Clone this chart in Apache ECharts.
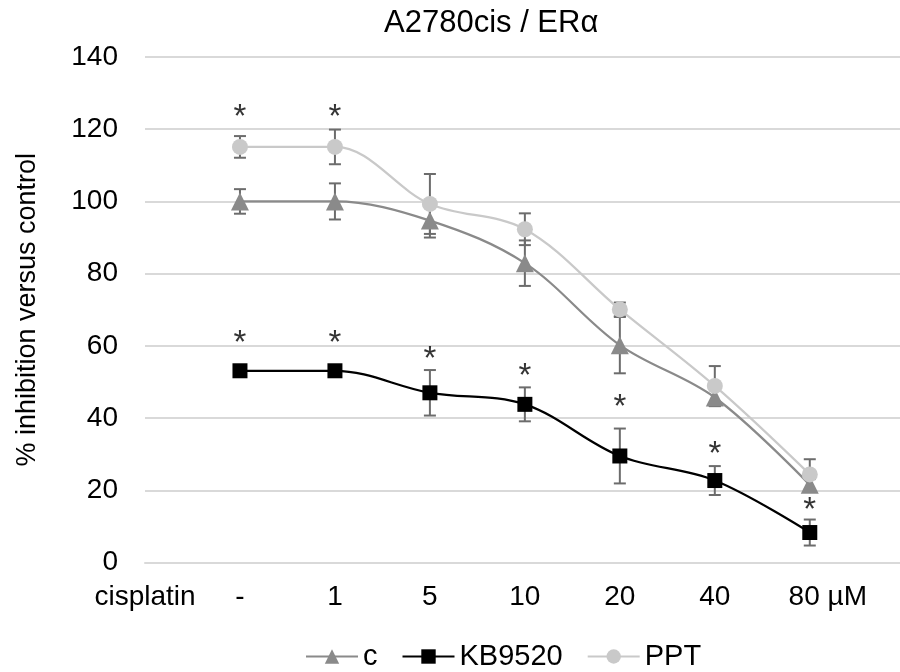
<!DOCTYPE html>
<html>
<head>
<meta charset="utf-8">
<script src="https://cdn.jsdelivr.net/npm/echarts@6/dist/echarts.min.js"></script>
<style>
  html, body { margin: 0; padding: 0; background: #ffffff; }
  #chart { width: 900px; height: 672px; }
</style>
</head>
<body>
<div id="chart"></div>
<script>
// ---- data ----
const chartTitle = 'A2780cis / ERα';
const yAxisName = '% inhibition versus control';
const axisLead = 'cisplatin';
const categories = ['-', '1', '5', '10', '20', '40', '80 µM'];
const yTicks = [0, 20, 40, 60, 80, 100, 120, 140];

const seriesNames = ['c', 'KB9520', 'PPT'];
const cValues   = [100, 100, 94.7, 82.9, 60.2, 45.7, 21.5];
const cErrors   = [3.4, 5.0, 4.7, 6.3, 7.8, 2.4, 1.6];
const kbValues  = [53.1, 53.1, 47.0, 43.8, 29.5, 22.7, 8.3];
const kbErrors  = [0.4, 0.4, 6.3, 4.7, 7.6, 4.0, 3.6];
const pptValues = [115.1, 115.1, 99.3, 92.3, 70.1, 48.9, 24.4];
const pptErrors = [3.0, 4.8, 8.3, 4.4, 1.9, 5.5, 4.2];

// significance marks (value level of each "*")
const pptStars = [124.4, 124.4, null, null, null, null, null];
const kbStars  = [62.0, 62.0, 57.5, 52.8, 44.2, 31.3, 15.6];

// ---- build ----
const FONT = '"Liberation Sans", Arial, sans-serif';
const colC = '#8a8a8a', colKB = '#000000', colPPT = '#c9c9c9', colErr = '#6c6c6c';

function pts(vals) { return vals.map((v, i) => [i, v]); }
function errData(vals, errs) { return vals.map((v, i) => [i, v, errs[i]]); }
function starData(arr) {
  const out = [];
  arr.forEach((v, i) => { if (v !== null) out.push([i, v]); });
  return out;
}
function renderErr(params, api) {
  const x = api.value(0), v = api.value(1), e = api.value(2);
  const top = api.coord([x, v + e]);
  const bot = api.coord([x, v - e]);
  const hw = 6;
  const st = { stroke: colErr, lineWidth: 2 };
  return {
    type: 'group',
    children: [
      { type: 'line', shape: { x1: top[0], y1: top[1], x2: bot[0], y2: bot[1] }, style: st },
      { type: 'line', shape: { x1: top[0] - hw, y1: top[1], x2: top[0] + hw, y2: top[1] }, style: st },
      { type: 'line', shape: { x1: bot[0] - hw, y1: bot[1], x2: bot[0] + hw, y2: bot[1] }, style: st }
    ]
  };
}
function errSeries(vals, errs) {
  return {
    type: 'custom', renderItem: renderErr, data: errData(vals, errs),
    encode: { x: 0, y: 1 }, z: 1, silent: true
  };
}
function lineSeries(name, vals, color, symbol, size) {
  return {
    name: name, type: 'line', data: pts(vals), smooth: 0.35,
    symbol: symbol, symbolSize: size, showAllSymbol: true,
    lineStyle: { color: color, width: 2.25 },
    itemStyle: { color: color },
    z: 3
  };
}
function starSeries(arr) {
  return {
    type: 'scatter', data: starData(arr), symbolSize: 0, silent: true, z: 4,
    label: {
      show: true, position: 'inside', formatter: '*', color: '#000',
      fontFamily: FONT, fontSize: 33, offset: [0, 5]
    }
  };
}

const chart = echarts.init(document.getElementById('chart'), null, { renderer: 'canvas' });
chart.setOption({
  animation: false,
  backgroundColor: '#ffffff',
  title: {
    text: chartTitle, left: 379, top: 3,
    textStyle: { fontFamily: FONT, fontSize: 31, fontWeight: 'normal', color: '#000' }
  },
  legend: {
    data: seriesNames, left: 300, top: 637,
    itemWidth: 52, itemHeight: 18, itemGap: 24,
    textStyle: { fontFamily: FONT, fontSize: 29, color: '#000' }
  },
  grid: { left: 145, right: 0, top: 57, bottom: 109.5 },
  xAxis: {
    type: 'value', min: -1, max: 6.95, interval: 1,
    axisLine: { show: true, lineStyle: { color: '#d9d9d9', width: 2 } },
    axisTick: { show: false },
    splitLine: { show: false },
    axisLabel: {
      margin: 21, fontFamily: FONT, fontSize: 28, color: '#000',
      showMaxLabel: false,
      formatter: function (v) {
        const i = Math.round(v);
        if (Math.abs(v - i) > 1e-6) return '';
        if (i === -1) return axisLead;
        if (i === categories.length - 1) return '{s|' + categories[i] + '}';
        return categories[i] !== undefined ? categories[i] : '';
      },
      rich: { s: { fontFamily: FONT, fontSize: 28, color: '#000', padding: [0, 0, 0, 36] } }
    }
  },
  yAxis: {
    type: 'value', min: yTicks[0], max: yTicks[yTicks.length - 1], interval: 20,
    name: yAxisName, nameLocation: 'middle', nameGap: 104,
    nameTextStyle: { fontFamily: FONT, fontSize: 27, color: '#000' },
    axisLine: { show: false }, axisTick: { show: false },
    axisLabel: { margin: 27, fontFamily: FONT, fontSize: 28, color: '#000' },
    splitLine: { lineStyle: { color: '#d9d9d9', width: 2 } }
  },
  series: [
    errSeries(cValues, cErrors),
    errSeries(kbValues, kbErrors),
    errSeries(pptValues, pptErrors),
    lineSeries(seriesNames[0], cValues, colC, 'triangle', 18),
    lineSeries(seriesNames[1], kbValues, colKB, 'rect', 15),
    lineSeries(seriesNames[2], pptValues, colPPT, 'circle', 16),
    starSeries(pptStars),
    starSeries(kbStars)
  ]
});
</script>
</body>
</html>
